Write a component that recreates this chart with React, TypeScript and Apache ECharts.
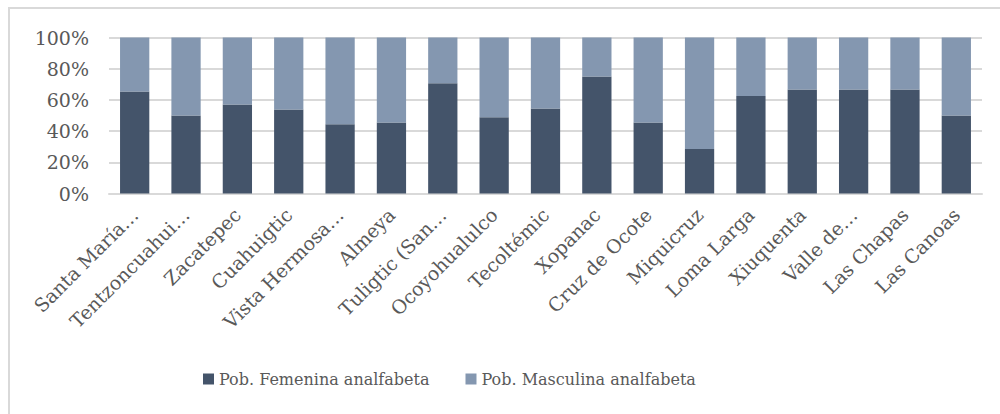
import React, { useEffect, useRef } from "react";
import * as echarts from "echarts";

const categories = [
  "Santa María…",
  "Tentzoncuahui…",
  "Zacatepec",
  "Cuahuigtic",
  "Vista Hermosa…",
  "Almeya",
  "Tuligtic (San…",
  "Ocoyohualulco",
  "Tecoltémic",
  "Xopanac",
  "Cruz de Ocote",
  "Miquicruz",
  "Loma Larga",
  "Xiuquenta",
  "Valle de…",
  "Las Chapas",
  "Las Canoas",
];

const femenina = [65.4, 50, 57.1, 53.8, 44.4, 45.5, 70.6, 48.8, 54.5, 75, 45.5, 28.6, 62.5, 66.7, 66.7, 66.7, 50];
const masculina = femenina.map((v) => Math.round((100 - v) * 10) / 10);

const yTicks = [0, 20, 40, 60, 80, 100];

const FONT = "DejaVu Serif";
const TEXT = "#595959";

export default function App() {
  const ref = useRef<HTMLDivElement>(null);
  useEffect(() => {
    if (!ref.current) return;
    const chart = echarts.init(ref.current, null, { renderer: "svg" });
    chart.setOption({
      animation: false,
      backgroundColor: "#ffffff",
      textStyle: { fontFamily: FONT },
      graphic: [
        {
          type: "rect",
          shape: { x: 9, y: 8, width: 1000, height: 420 },
          style: { fill: "none", stroke: "#d9d9d9", lineWidth: 2 },
          silent: true,
        },
      ],
      grid: { left: 109, right: 18, top: 37.5, bottom: 220.5, containLabel: false },
      legend: {
        bottom: 22,
        left: 198,
        itemWidth: 11,
        itemHeight: 11,
        itemGap: 36,
        icon: "rect",
        textStyle: { color: TEXT, fontSize: 16, fontFamily: FONT },
        data: ["Pob. Femenina analfabeta", "Pob. Masculina analfabeta"],
      },
      xAxis: {
        type: "category",
        data: categories,
        axisLine: { show: true, lineStyle: { color: "#d9d9d9", width: 2 } },
        axisTick: { show: false },
        axisLabel: {
          interval: 0,
          rotate: 45,
          color: TEXT,
          fontSize: 19,
          fontFamily: FONT,
          margin: 18,
        },
      },
      yAxis: {
        type: "value",
        min: 0,
        max: 100,
        interval: 20,
        axisLine: { show: false },
        axisTick: { show: false },
        splitLine: { lineStyle: { color: "#d9d9d9", width: 2 } },
        axisLabel: {
          color: TEXT,
          fontSize: 19,
          fontFamily: FONT,
          margin: 20,
          formatter: (v: number) => (yTicks.includes(v) ? v + "%" : ""),
        },
      },
      series: [
        {
          name: "Pob. Femenina analfabeta",
          type: "bar",
          stack: "total",
          barWidth: "57%",
          data: femenina,
          itemStyle: { color: "#44546a" },
        },
        {
          name: "Pob. Masculina analfabeta",
          type: "bar",
          stack: "total",
          barWidth: "57%",
          data: masculina,
          itemStyle: { color: "#8497b0" },
        },
      ],
    });
    return () => chart.dispose();
  }, []);
  return (
    <div
      ref={ref}
      style={{ position: "fixed", left: 0, top: 0, width: 1000, height: 414 }}
    />
  );
}
